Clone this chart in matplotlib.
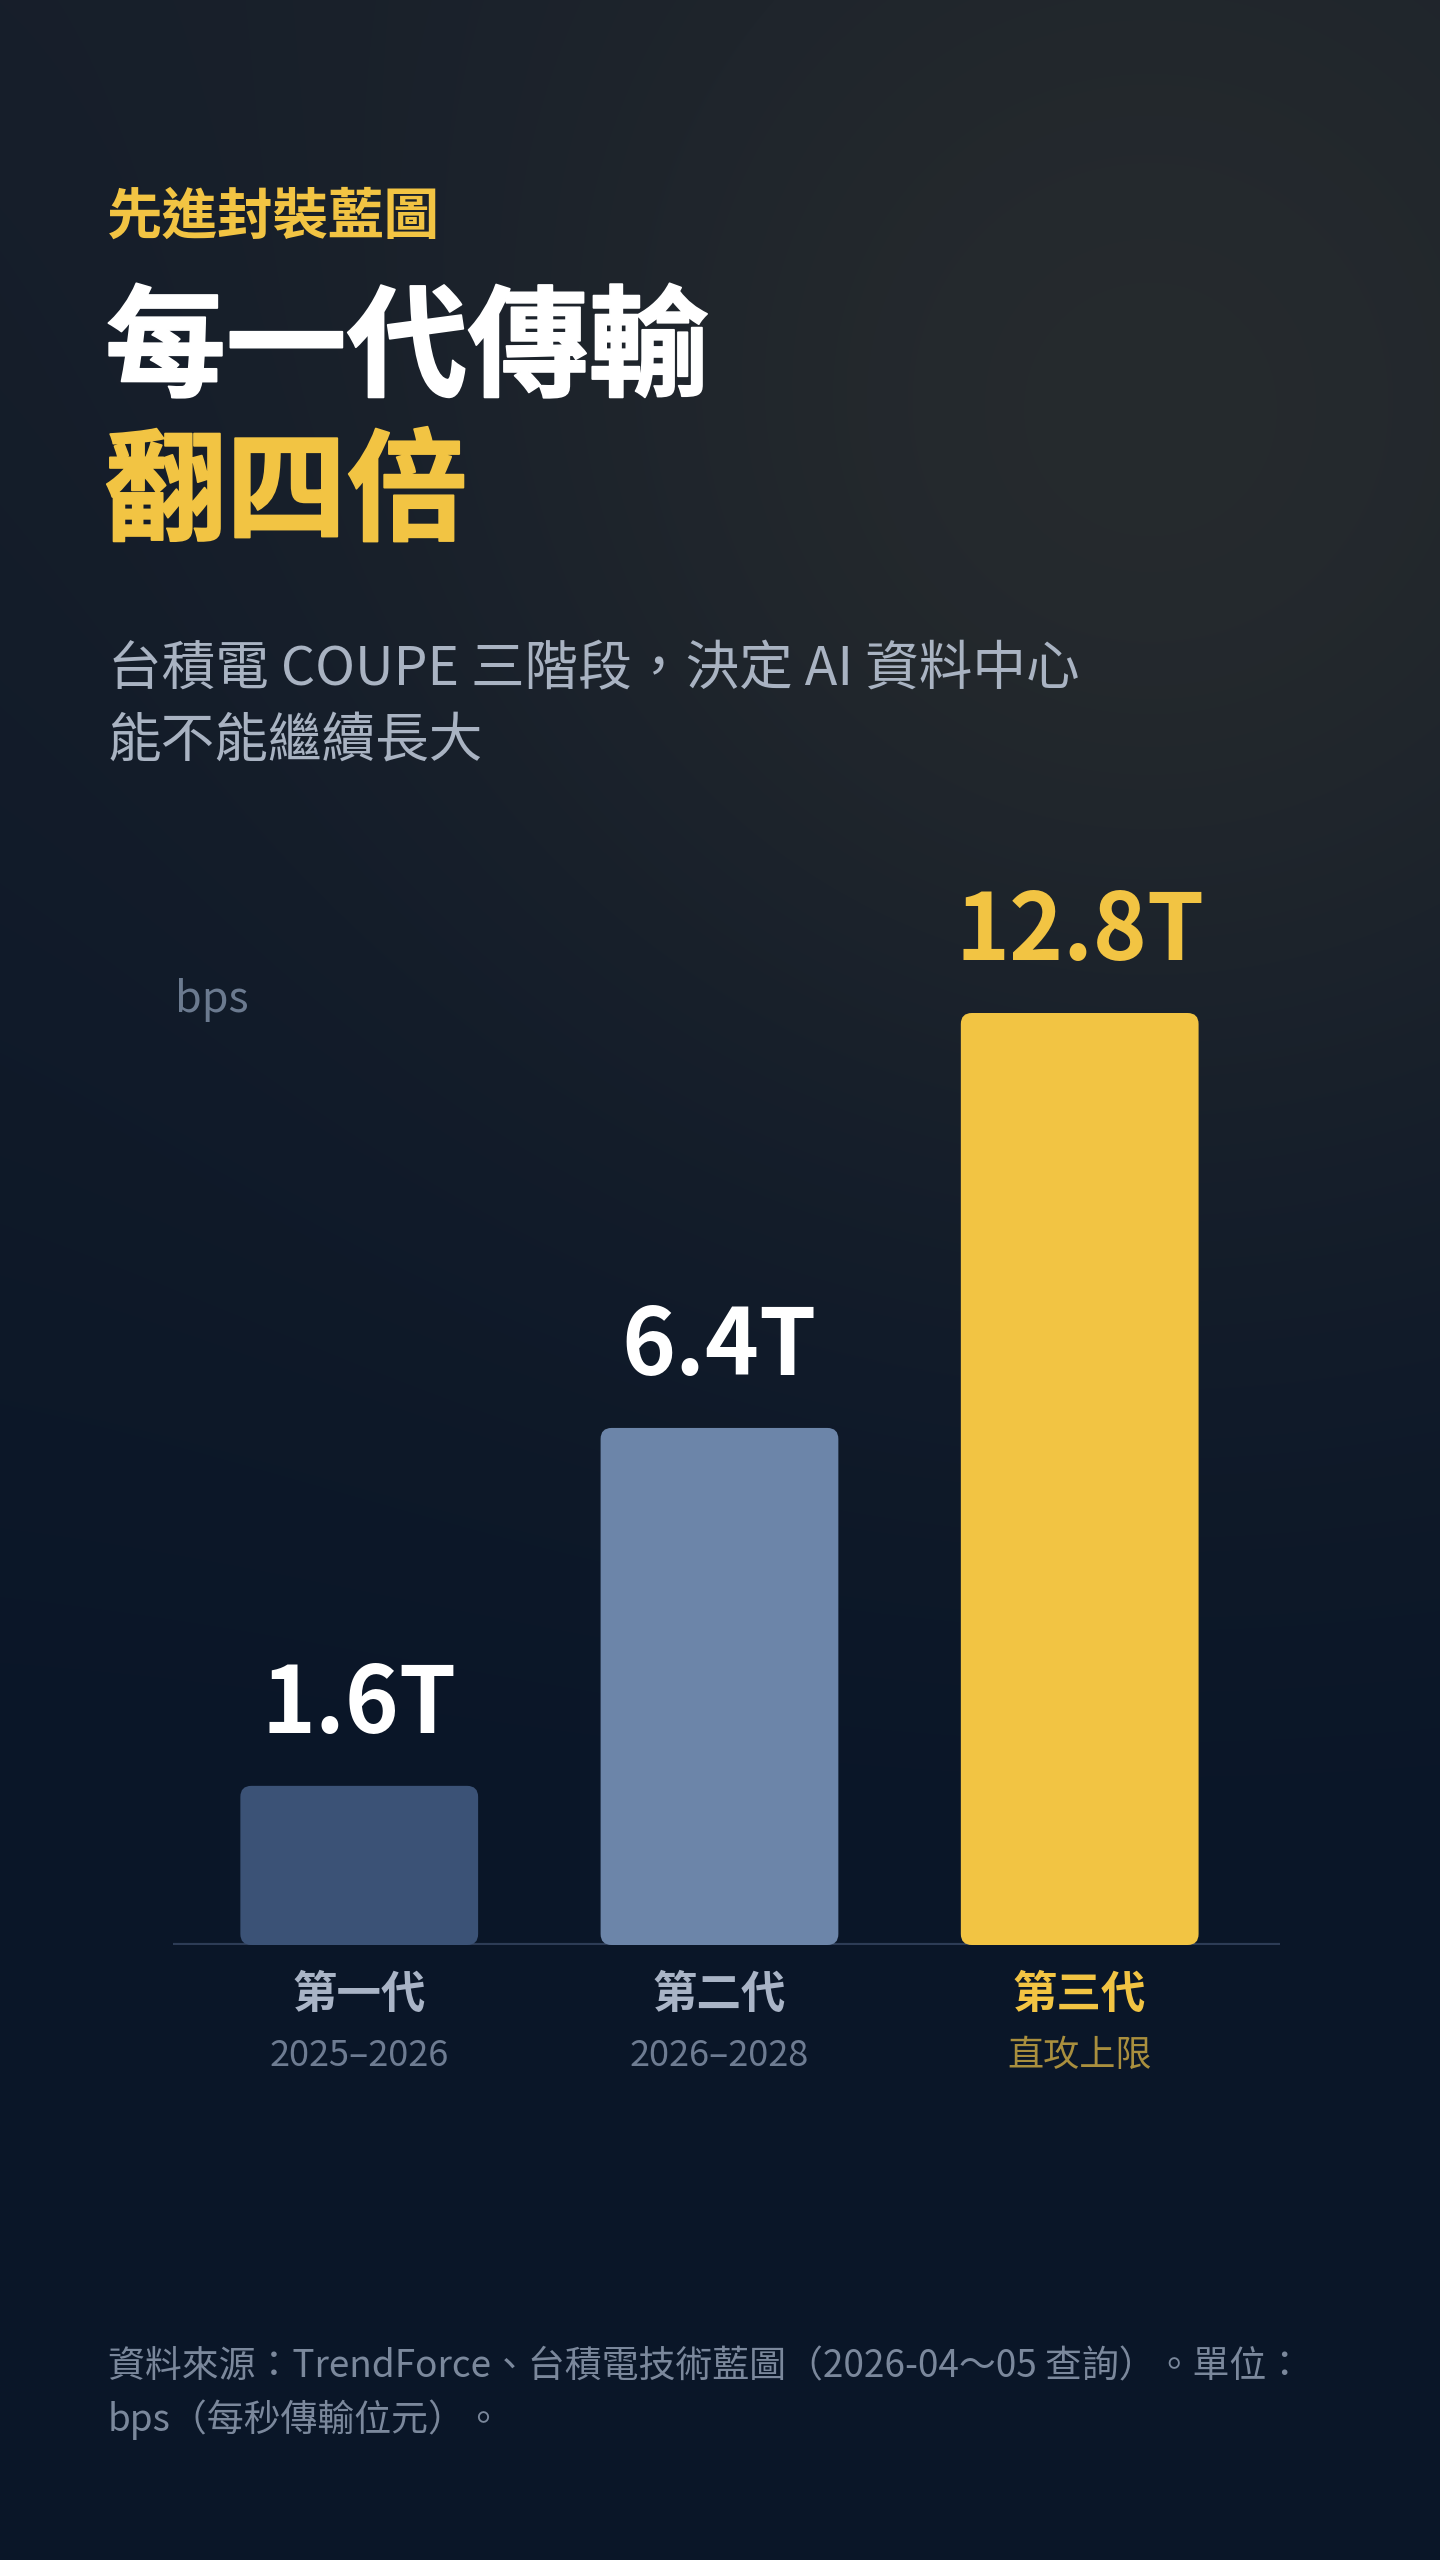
import numpy as np
import matplotlib.pyplot as plt
import matplotlib.patheffects as pe
from matplotlib.patches import FancyBboxPatch
from matplotlib.transforms import IdentityTransform

plt.rcParams['font.family'] = ['Noto Sans CJK TC', 'DejaVu Sans']

# data
generations = ['第一代', '第二代', '第三代']
periods = ['2025–2026', '2026–2028', '直攻上限']
speeds = [1.6, 6.4, 12.8]          # Tbps
speed_labels = ['1.6T', '6.4T', '12.8T']

# colours
YELLOW = '#f2c443'
bar_colors = ['#3b5276', '#6c85a9', YELLOW]
value_colors = ['white', 'white', YELLOW]
gen_colors = ['#a9b4c6', '#a9b4c6', YELLOW]
period_colors = ['#6e7c92', '#6e7c92', '#a98f3e']

W, H = 1440, 2560
fig = plt.figure(figsize=(W / 100, H / 100), dpi=100)

# background: dark navy gradient with a soft glow top right
yy, xx = np.mgrid[0:H, 0:W].astype(float)
top = np.array([0x16, 0x1e, 0x2a]) / 255
bottom = np.array([0x0a, 0x16, 0x28]) / 255
glow = np.array([0x28, 0x2c, 0x2e]) / 255
t = np.clip(yy / (0.7 * H), 0, 1)[..., None]
bg = top * (1 - t) + bottom * t
g = np.exp(-((xx - 1150) ** 2 + (yy - 420) ** 2) / (2 * 520.0 ** 2))[..., None]
bg = bg + g * (glow - bg) * 0.9
ax_bg = fig.add_axes([0, 0, 1, 1], zorder=-1)
ax_bg.imshow(bg, aspect='auto', interpolation='bilinear')
ax_bg.axis('off')


def ftext(x, y, s, **kw):
    fig.text(x / W, 1 - y / H, s, va='center', **kw)


# header
heavy_w = [pe.withStroke(linewidth=1.3, foreground='white')]
heavy_y = [pe.withStroke(linewidth=1.3, foreground=YELLOW)]
ftext(107, 218, '先進封裝藍圖', color=YELLOW, fontsize=40, fontweight='bold')
ftext(105, 352, '每一代傳輸', color='white', fontsize=87, fontweight='black', path_effects=heavy_w)
ftext(105, 496, '翻四倍', color=YELLOW, fontsize=87, fontweight='black', path_effects=heavy_y)
ftext(108, 670, '台積電 COUPE 三階段，決定 AI 資料中心', color='#a9b3c2', fontsize=38.6)
ftext(108, 742, '能不能繼續長大', color='#a9b3c2', fontsize=38.6)
ftext(175, 1000, 'bps', color='#6b7a8f', fontsize=31)

# footer
ftext(108, 2367, '資料來源：TrendForce、台積電技術藍圖（2026-04～05 查詢）。單位：',
      color='#7b889c', fontsize=26.6)
ftext(108, 2420, 'bps（每秒傳輸位元）。', color='#7b889c', fontsize=26.6)

# chart
base_y, top_y, left_x, right_x = 1945, 1013, 173, 1280
ax = fig.add_axes([left_x / W, 1 - base_y / H, (right_x - left_x) / W, (base_y - top_y) / H])
ax.set_yscale('function', functions=(lambda v: np.abs(v) ** 0.85, lambda v: np.abs(v) ** (1 / 0.85)))
x = np.arange(len(speeds))
ax.set_xlim(-0.517, 2.556)
ax.set_ylim(0, max(speeds))
ax.axis('off')
ax.axhline(0, color='#2d3c56', lw=3.0, zorder=1)

bars = ax.bar(x, speeds, width=0.66, color=bar_colors, zorder=2)
for bar, c in zip(bars, bar_colors):
    bb = bar.get_window_extent()
    bar.set_visible(False)
    fig.add_artist(FancyBboxPatch((bb.x0, bb.y0), bb.width, bb.height,
                                  boxstyle='round,pad=0,rounding_size=11',
                                  transform=IdentityTransform(), facecolor=c,
                                  edgecolor='none', zorder=3))

for i, v in enumerate(speeds):
    ax.annotate(speed_labels[i], xy=(i, v), xytext=(0, 38), textcoords='offset points',
                ha='center', va='baseline', fontsize=66, fontweight='bold',
                color=value_colors[i], annotation_clip=False)
    ax.annotate(generations[i], xy=(i, 0), xytext=(0, -36), textcoords='offset points',
                ha='center', va='center', fontsize=32, fontweight='bold',
                color=gen_colors[i], annotation_clip=False)
    ax.annotate(periods[i], xy=(i, 0), xytext=(0, -80), textcoords='offset points',
                ha='center', va='center', fontsize=26, color=period_colors[i],
                annotation_clip=False)

fig.savefig('out.png', dpi=100)
